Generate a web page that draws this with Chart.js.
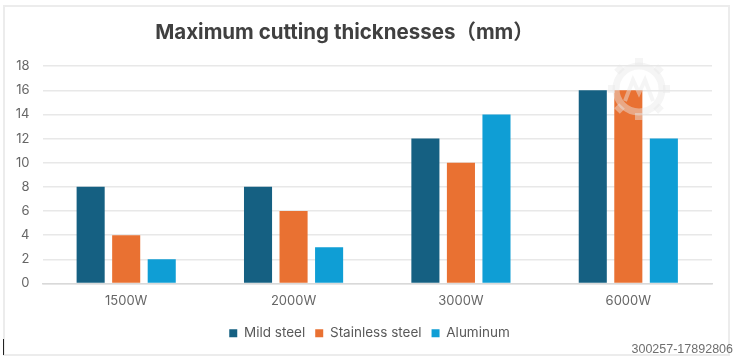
<!DOCTYPE html>
<html>
<head>
<meta charset="utf-8">
<title>Maximum cutting thicknesses</title>
<script src="https://cdn.jsdelivr.net/npm/chart.js@4/dist/chart.umd.min.js"></script>
<style>
  html, body { margin: 0; padding: 0; background: #fff; }
  #wrap { position: relative; width: 734px; height: 359px; overflow: hidden; }
  #frame { position: absolute; left: 3px; top: 5px; width: 723px; height: 347px; border: 2px solid #ececec; }
  #cursor { position: absolute; left: 3px; top: 339px; width: 1px; height: 16px; background: #222; }
  #stamp { position: absolute; right: 1px; top: 342px; font: 12.5px "Liberation Sans", Arial, sans-serif; color: #6f6f6f; }
  #logo { position: absolute; left: 605px; top: 55px; }
  canvas { position: absolute; left: 0; top: 0; }
</style>
</head>
<body>
<div id="wrap">
  <div id="frame"></div>
  <canvas id="chart1" width="734" height="359"></canvas>
  <div id="cursor"></div>
  <svg id="logo" width="68" height="68" viewBox="0 0 68 68">
    <g fill="none" stroke="#e8e8e8" stroke-opacity="0.45">
      <circle cx="34" cy="34" r="23" stroke-width="7"/>
      <path d="M34 3V10M34 58V65M3 34H10M58 34H65M12 12L17 17M51 51L56 56M12 56L17 51M51 17L56 12" stroke-width="8"/>
      <path d="M20 46L28 25L34 38L40 25L48 46" stroke-width="4"/>
    </g>
  </svg>
  <div id="stamp">300257-17892806</div>
</div>
<script>
var categories = ["1500W", "2000W", "3000W", "6000W"];
var mildSteel = [8, 8, 12, 16];
var stainlessSteel = [4, 6, 10, 16];
var aluminum = [2, 3, 14, 12];
var yTicks = [0, 2, 4, 6, 8, 10, 12, 14, 16, 18];

var textFont = "Inter, 'Noto Sans CJK SC', sans-serif";

function makeSet(name, values, color) {
  return {
    label: name,
    data: values,
    backgroundColor: color,
    barPercentage: 0.79,
    categoryPercentage: 0.637
  };
}

// title and legend are not centred on the plot in the original, so nudge the boxes
var nudgeBoxes = {
  id: "nudgeBoxes",
  afterLayout: function (chart) {
    chart.titleBlock.left -= 11.5;
    chart.titleBlock.right -= 11.5;
    chart.legend.left += 13.5;
    chart.legend.right += 13.5;
  }
};

var ctx = document.getElementById("chart1");
var myChart = new Chart(ctx, {
  type: "bar",
  plugins: [nudgeBoxes],
  data: {
    labels: categories,
    datasets: [
      makeSet("Mild steel", mildSteel, "#156082"),
      makeSet("Stainless steel", stainlessSteel, "#e97132"),
      makeSet("Aluminum", aluminum, "#0f9ed5")
    ]
  },
  options: {
    responsive: false,
    animation: false,
    layout: { padding: { left: 0, right: 22, top: 0, bottom: 9 } },
    plugins: {
      tooltip: { enabled: false },
      title: {
        display: true,
        text: "Maximum cutting thicknesses（mm）",
        color: "#404040",
        font: { family: textFont, size: 20.5, weight: "700" },
        padding: { top: 21, bottom: 20.6 }
      },
      legend: {
        position: "bottom",
        labels: {
          color: "#595959",
          font: { family: textFont, size: 13.5 },
          boxWidth: 8,
          boxHeight: 8,
          padding: 10
        }
      }
    },
    scales: {
      x: {
        afterFit: function (axis) { axis.height += 5.5; },
        grid: { display: false },
        border: { color: "#d9d9d9", width: 1.5 },
        ticks: { color: "#666666", font: { family: textFont, size: 13 }, padding: 2 }
      },
      y: {
        min: 0,
        max: 18,
        afterFit: function (axis) { axis.width = 42.5; },
        afterBuildTicks: function (axis) {
          axis.ticks = yTicks.map(function (v) { return { value: v }; });
        },
        grid: { color: "#e8e8e8", lineWidth: 1.5, drawTicks: false },
        border: { display: false },
        ticks: { color: "#666666", font: { family: textFont, size: 13 }, padding: 13 }
      }
    }
  }
});
</script>
</body>
</html>
